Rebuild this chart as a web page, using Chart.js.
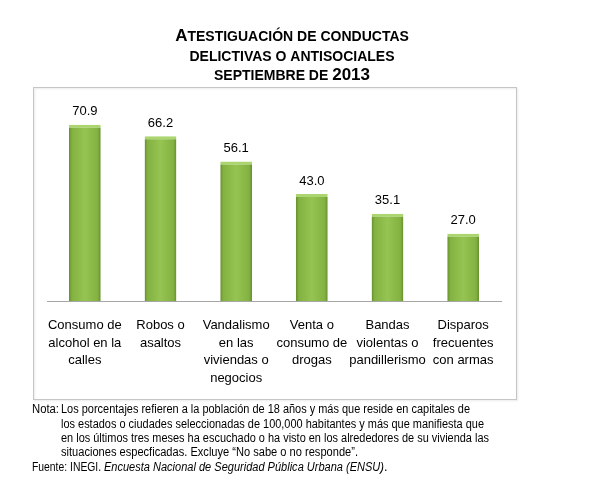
<!DOCTYPE html>
<html>
<head>
<meta charset="utf-8">
<script src="https://cdn.jsdelivr.net/npm/chart.js@4.4.0/dist/chart.umd.min.js"></script>
<style>
  html, body { margin: 0; padding: 0; background: #fff; }
  #wrap { width: 600px; height: 503px; }
</style>
</head>
<body>
<div id="wrap"><canvas id="conductasChart" width="600" height="503"></canvas></div>
<script>
// Data
const categories = [
    ['Consumo de', 'alcohol en la', 'calles'],
    ['Robos o', 'asaltos'],
    ['Vandalismo', 'en las', 'viviendas o', 'negocios'],
    ['Venta o', 'consumo de', 'drogas'],
    ['Bandas', 'violentas o', 'pandillerismo'],
    ['Disparos', 'frecuentes', 'con armas']
];
const porcentajes = [70.9, 66.2, 56.1, 43.0, 35.1, 27.0];

const titleLines = [
    [['A', true], ['TESTIGUACIÓN DE CONDUCTAS', false]],
    [['DELICTIVAS O ANTISOCIALES', false]],
    [['SEPTIEMBRE DE ', false], ['2013', true]]
];
const notaLines = [
    'Los porcentajes refieren a la población de 18 años y más que reside en capitales de',
    'los estados o ciudades seleccionadas de 100,000 habitantes y más que manifiesta que',
    'en los últimos tres meses ha escuchado o ha visto en los alrededores de su vivienda las',
    'situaciones especficadas. Excluye “No sabe o no responde”.'
];
const notaWidths = [409, 423, 428, 297];

// box + title + notes
const decorPlugin = {
    id: 'decor',
    beforeDraw(chart) {
        const ctx = chart.ctx;
        ctx.save();
        ctx.fillStyle = '#fff';
        ctx.fillRect(0, 0, chart.width, chart.height);
        ctx.shadowColor = 'rgba(0,0,0,0.12)';
        ctx.shadowOffsetX = 1;
        ctx.shadowOffsetY = 1;
        ctx.shadowBlur = 2;
        ctx.strokeStyle = '#c6c6c6';
        ctx.lineWidth = 1;
        ctx.strokeRect(33.5, 87.5, 483, 312);
        ctx.restore();
    },
    afterDraw(chart) {
        const ctx = chart.ctx;
        ctx.save();
        ctx.fillStyle = '#000';
        ctx.textBaseline = 'alphabetic';
        // small caps title
        const ys = [41, 61, 80];
        titleLines.forEach((parts, i) => {
            let total = 0;
            parts.forEach(p => {
                ctx.font = 'bold ' + (p[1] ? 17 : 14) + 'px "Liberation Sans", Arial';
                total += ctx.measureText(p[0]).width;
            });
            let x = 292 - total / 2;
            parts.forEach(p => {
                ctx.font = 'bold ' + (p[1] ? 17 : 14) + 'px "Liberation Sans", Arial';
                ctx.fillText(p[0], x, ys[i]);
                x += ctx.measureText(p[0]).width;
            });
        });
        // notes
        ctx.font = '12.5px "Liberation Sans", Arial';
        ctx.textBaseline = 'middle';
        ctx.fillText('Nota:', 32, 410, 27);
        notaLines.forEach((t, i) => {
            ctx.fillText(t, 61, 410 + i * 14.3, notaWidths[i]);
        });
        const fy = 410 + 4 * 14.3;
        let fx = 32;
        ctx.fillText('Fuente: INEGI. ', fx, fy, 72);
        fx += 72;
        ctx.font = 'italic 12.5px "Liberation Sans", Arial';
        const it = 'Encuesta Nacional de Seguridad Pública Urbana (ENSU)';
        ctx.fillText(it, fx, fy, 280);
        fx += 280;
        ctx.font = '12.5px "Liberation Sans", Arial';
        ctx.fillText('.', fx, fy);
        ctx.restore();
    }
};

// value labels over the bars
const valuePlugin = {
    id: 'values',
    afterDatasetsDraw(chart) {
        const ctx = chart.ctx;
        const meta = chart.getDatasetMeta(0);
        ctx.save();
        ctx.font = '13px "Liberation Sans", Arial';
        ctx.fillStyle = '#000';
        ctx.textAlign = 'center';
        ctx.textBaseline = 'middle';
        meta.data.forEach((bar, i) => {
            ctx.fillText(porcentajes[i].toFixed(1), bar.x, bar.y - 13);
        });
        ctx.restore();
    }
};

function barFill(context) {
    const chart = context.chart;
    const xs = chart.scales && chart.scales.x;
    if (!chart.chartArea || !xs || context.dataIndex === undefined) return '#8fbd4c';
    const cx = xs.getPixelForValue(context.dataIndex);
    const w = 32;
    const g = chart.ctx.createLinearGradient(cx - w / 2, 0, cx + w / 2, 0);
    g.addColorStop(0, '#648e2c');
    g.addColorStop(0.1, '#84b242');
    g.addColorStop(0.5, '#96c452');
    g.addColorStop(0.9, '#84b242');
    g.addColorStop(1, '#648e2c');
    return g;
}

const ctx = document.getElementById('conductasChart').getContext('2d');
const chart = new Chart(ctx, {
    type: 'bar',
    data: {
        labels: categories,
        datasets: [{
            data: porcentajes,
            backgroundColor: barFill,
            borderColor: '#abd56e',
            borderWidth: { top: 3, left: 0, right: 0, bottom: 0 },
            borderSkipped: 'bottom',
            categoryPercentage: 1,
            barPercentage: 0.42
        }]
    },
    options: {
        responsive: false,
        animation: false,
        layout: { padding: { left: 47, right: 99, top: 102, bottom: 0 } },
        plugins: {
            legend: { display: false },
            tooltip: { enabled: false },
            title: { display: false }
        },
        scales: {
            x: {
                grid: { display: false, drawTicks: false },
                border: { color: '#a6a6a6', width: 1 },
                ticks: {
                    color: '#000',
                    padding: 16,
                    maxRotation: 0,
                    autoSkip: false,
                    font: { family: '"Liberation Sans", Arial', size: 13, lineHeight: 1.35 }
                },
                afterFit(scale) { scale.height = 202; }
            },
            y: {
                display: false,
                min: 0,
                max: 80
            }
        }
    },
    plugins: [decorPlugin, valuePlugin]
});
chart.update();
</script>
</body>
</html>
